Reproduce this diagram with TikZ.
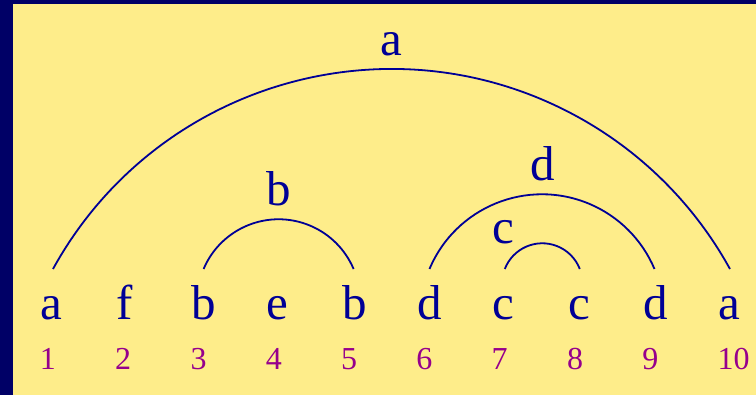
\documentclass[tikz,border=0pt]{standalone}
\usepackage{fontspec}
\setmainfont{Liberation Serif}
\definecolor{navyframe}{RGB}{0,0,102}
\definecolor{bgyellow}{RGB}{254,237,138}
\definecolor{letterblue}{RGB}{0,0,150}
\definecolor{numpurple}{RGB}{150,0,140}
\begin{document}
\begin{tikzpicture}[x=1pt,y=1pt,
  letter/.style={text=letterblue,font=\fontsize{49}{52}\selectfont,inner sep=0pt},
  num/.style={text=numpurple,font=\fontsize{32}{34}\selectfont,anchor=base west,inner sep=0pt},
  arcline/.style={draw=letterblue,line width=1.8pt}]
\useasboundingbox (0,0) rectangle (756,395);
\fill[navyframe] (0,0) rectangle (756,395);
\fill[bgyellow] (13,0) rectangle (756,391);
% letters and numbers
\foreach \i/\t in {1/a,2/f,3/b,4/e,5/b,6/d,7/c,8/c,9/d,10/a}{
  \node[letter,anchor=base west] (l\i) at ({40.7+75.3*(\i-1)},75) {\t};
  \node[num] (n\i) at ({39.7+75.3*(\i-1)},25) {\i};
  \coordinate (t\i) at ({53+75.3*(\i-1)},126);
}
% arcs
\draw[arcline] (t1) arc[start angle=151.15,end angle=28.85,radius=386.46];
\draw[arcline] (t3) arc[start angle=157.07,end angle=22.93,radius=81.44];
\draw[arcline] (t6) arc[start angle=157.17,end angle=22.83,radius=122.06];
\draw[arcline] (t7) arc[start angle=158.85,end angle=21.15,radius=40.21];
% arc labels
\node[letter,anchor=base] (la) at (391.5,339.3) {a};
\node[letter,anchor=base] (lb) at (278.5,189.5) {b};
\node[letter,anchor=base] (ld) at (542.3,214.3) {d};
\node[letter,anchor=base] (lc) at (503.3,151.5) {c};
\end{tikzpicture}
\end{document}
